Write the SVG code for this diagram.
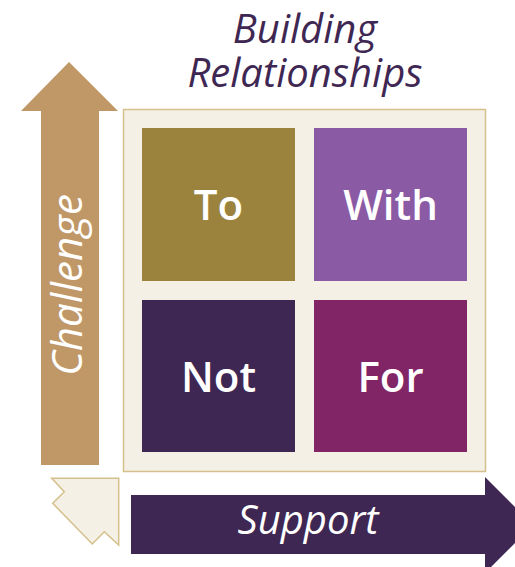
<svg xmlns="http://www.w3.org/2000/svg" width="515" height="567" viewBox="0 0 515 567">
<style>
.lbl{font-family:"Open Sans","Noto Sans","Liberation Sans",sans-serif;fill:#ffffff;text-anchor:middle}
.q{font-size:42px;font-weight:600}
.ttl{font-family:"Open Sans","Noto Sans","Liberation Sans",sans-serif;font-style:italic;fill:#3f2753;text-anchor:middle;font-size:40px}
</style>
<rect width="515" height="567" fill="#ffffff"/>
<g id="title">
<text class="ttl" x="305" y="43">Building</text>
<text class="ttl" x="305" y="87">Relationships</text>
</g>
<g id="connectors">
<g id="challenge-arrow">
<polygon points="69,62 118,111 99,111 99,465 41,465 41,111 21,111" fill="#c09868"/>
<text class="lbl" font-style="italic" font-size="42" transform="translate(82,285) rotate(-90)">Challenge</text>
</g>
<g id="support-arrow">
<polygon points="131,495 485,495 485,477 533,525 485,573 485,554 131,554" fill="#3f2753"/>
<text class="lbl" font-style="italic" font-size="40" x="308" y="534">Support</text>
</g>
<polygon id="corner" points="51.7,478.3 118.7,478.3 118.7,545 104.3,531.7 92.3,544 52.7,503.3 64.3,491.7" fill="#f4f0e6" stroke="#d4c08a" stroke-width="1.5"/>
</g>
<g id="grid">
<rect x="123.5" y="109.5" width="362" height="362" fill="#f4f0e6" stroke="#d4c08a" stroke-width="1.5"/>
</g>
<g id="to">
<rect x="142" y="128" width="153" height="153" fill="#9b833d"/>
<text class="lbl q" x="218.5" y="220">To</text>
</g>
<g id="with">
<rect x="314" y="128" width="153" height="153" fill="#8a5aa5"/>
<text class="lbl q" x="390.5" y="220">With</text>
</g>
<g id="not">
<rect x="142" y="300" width="153" height="152" fill="#3f2753"/>
<text class="lbl q" x="218.5" y="392">Not</text>
</g>
<g id="for">
<rect x="314" y="300" width="153" height="152" fill="#812566"/>
<text class="lbl q" x="390.5" y="392">For</text>
</g>
</svg>
